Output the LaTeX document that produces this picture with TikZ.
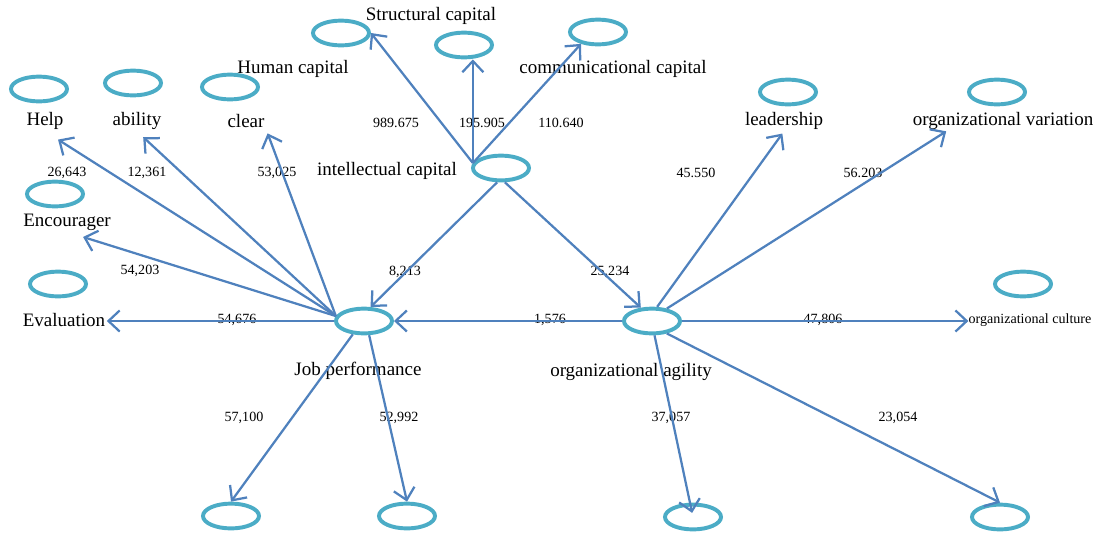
\documentclass[tikz,border=0pt]{standalone}
\usepackage{fontspec}
\setmainfont{Liberation Serif}
\usetikzlibrary{shapes.geometric,arrows.meta}
\definecolor{ringblue}{HTML}{4BACC6}
\definecolor{lineblue}{HTML}{4F81BD}

\begin{document}
\begin{tikzpicture}[x=0.025cm,y=-0.025cm]

\tikzstyle{latent} = [
	draw=ringblue, ellipse, line width=2.8pt, inner sep=0pt,
	minimum width=1.4cm, minimum height=0.62cm ];
\tikzstyle{lbl} = [inner sep=1pt, font=\fontsize{13.5}{16}\selectfont];
\tikzstyle{num} = [inner sep=0pt, font=\fontsize{10}{12}\selectfont];
\tikzstyle{link} = [draw=lineblue, line width=1.6pt,
	-{Straight Barb[length=8pt,width=15pt]}];
\useasboundingbox (0,0) rectangle (1099,535);

% constructs
\node[latent] (ic) at (501,168) {};
\node[latent] (jp) at (364,321) {};
\node[latent] (oa) at (652,321) {};

% indicators
\node[latent] (ehelp) at (39,89) {};
\node[latent] (eabil) at (133,83) {};
\node[latent] (eclear) at (230,87) {};
\node[latent] (eenc) at (55,194) {};
\node[latent] (eeval) at (58,284) {};
\node[latent] (estruct) at (341,33) {};
\node[latent] (ehum) at (464,45) {};
\node[latent] (ecomm) at (598,32) {};
\node[latent] (elead) at (788,92) {};
\node[latent] (evar) at (997,92) {};
\node[latent] (ecult) at (1023,284) {};
\node[latent] (jp1) at (231,516) {};
\node[latent] (jp2) at (407,516) {};
\node[latent] (oa1) at (693,517) {};
\node[latent] (oa2) at (1000,517) {};

% labels
\node[lbl] (help) at (45,121) {Help};
\node[lbl] (abil) at (137,121) {ability};
\node[lbl] (clear) at (246,121) {clear};
\node[lbl] (human) at (293,69) {Human capital};
\node[lbl] (struct) at (431,16) {Structural capital};
\node[lbl] (comm) at (613,69) {communicational capital};
\node[lbl] (intel) at (387,171) {intellectual capital};
\node[lbl] (lead) at (784,121) {leadership};
\node[lbl] (var) at (1003,121) {organizational variation};
\node[lbl] (enc) at (67,222) {Encourager};
\node[lbl] (eval) at (64,320) {Evaluation};
\node[lbl] (jplbl) at (358,371) {Job performance};
\node[lbl] (oalbl) at (631,372) {organizational agility};
\node[num] (cult) at (1030,320) {organizational culture};

% path coefficients
\node[num] (n1) at (396,123) {989.675};
\node[num] (n2) at (482,123) {195.905};
\node[num] (n3) at (561,123) {110.640};
\node[num] (n4) at (67,173) {26,643};
\node[num] (n5) at (147,173) {12,361};
\node[num] (n6) at (277,173) {53,025};
\node[num] (n7) at (696,173) {45.550};
\node[num] (n8) at (863,173) {56.203};
\node[num] (n9) at (140,271) {54,203};
\node[num] (n10) at (405,272) {8,213};
\node[num] (n11) at (610,272) {25,234};
\node[num] (n12) at (237,320) {54,676};
\node[num] (n13) at (550,320) {1,576};
\node[num] (n14) at (823,320) {47,806};
\node[num] (n15) at (244,418) {57,100};
\node[num] (n16) at (399,418) {52,992};
\node[num] (n17) at (671,418) {37,057};
\node[num] (n18) at (898,418) {23,054};

% intellectual capital
\draw[link] (ic.170) -- (estruct.east);
\draw[link] (ic.170) -- (ic.170 |- ehum.south);
\draw[link] (ic.170) -- (ecomm.215);
\draw[link] (ic.255) -- (jp.65);
\draw[link] (ic.285) -- (oa.130);

% job performance
\draw[link, shorten >=11pt] (jp.170) -- (help.south);
\draw[link, shorten >=6pt] (jp.170) -- (abil.south);
\draw[link, shorten >=3pt] (jp.170) -- (clear.south east);
\draw[link, shorten >=12pt] (jp.170) -- (enc.south);
\draw[link] (jp.west) -- (jp.west -| eval.east);
\draw[link] (jp.230) -- (jp1.north);
\draw[link] (jp.290) -- (jp2.north);

% organizational agility
\draw[link] (oa.west) -- (jp.east);
\draw[link, shorten >=2pt] (oa.70) -- (lead.south);
\draw[link] (oa.40) -- ([xshift=25pt]var.south west);
\draw[link] (oa.east) -- (oa.east -| cult.west);
\draw[link, shorten >=3pt] (oa.280) -- (oa1.center);
\draw[link] (oa.320) -- (oa2.north);

\end{tikzpicture}
\end{document}
